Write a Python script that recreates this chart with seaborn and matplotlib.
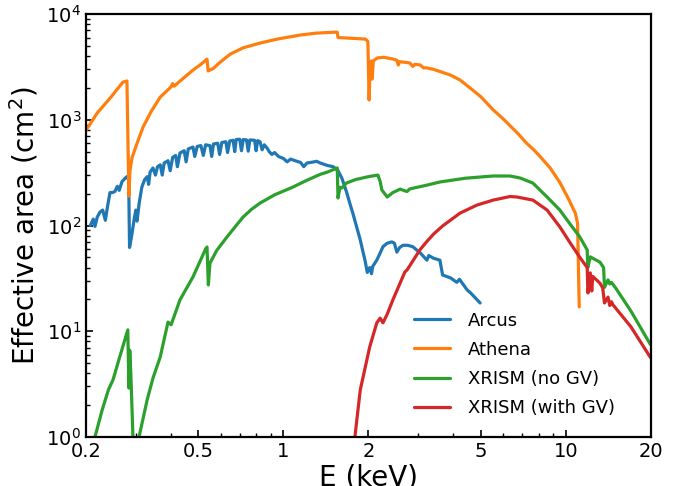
import numpy as np, pandas as pd
import matplotlib
matplotlib.use("Agg")  # headless
import matplotlib.pyplot as plt
import seaborn as sns
from matplotlib.ticker import FixedLocator, FixedFormatter, LogLocator, NullFormatter

# effective area curves (E in keV, area in cm^2)
arcus_e = [0.207, 0.212, 0.215, 0.219, 0.224, 0.229, 0.234, 0.238, 0.243, 0.248, 0.253, 0.258, 0.262,
           0.268, 0.275, 0.279, 0.283, 0.285, 0.290, 0.296, 0.300, 0.303, 0.308, 0.315, 0.322, 0.329,
           0.333, 0.337, 0.345, 0.352, 0.358, 0.366, 0.372, 0.378, 0.390, 0.397, 0.405, 0.415, 0.421,
           0.430, 0.445, 0.452, 0.460, 0.478, 0.485, 0.495, 0.510, 0.520, 0.530, 0.549, 0.557, 0.565,
           0.585, 0.594, 0.605, 0.625, 0.634, 0.645, 0.663, 0.672, 0.680, 0.700, 0.710, 0.720, 0.740,
           0.750, 0.760, 0.790, 0.800, 0.810, 0.826, 0.840, 0.855, 0.875, 0.890, 0.910, 0.930, 0.960,
           1.00, 1.03, 1.06, 1.10, 1.15, 1.18, 1.21, 1.27, 1.31, 1.35, 1.43, 1.50, 1.56, 1.61, 1.67,
           1.72, 1.76, 1.87, 1.95, 1.98, 2.02, 2.05, 2.07, 2.14, 2.20, 2.25, 2.33, 2.42, 2.47, 2.52,
           2.58, 2.65, 2.75, 2.87, 3.05, 3.22, 3.27, 3.40, 3.58, 3.66, 3.90, 4.11, 4.20, 4.47, 4.60, 4.97]
arcus_a = [100, 115, 98, 120, 134, 140, 112, 150, 205, 205, 210, 235, 215,
           260, 280, 290, 270, 62, 80, 115, 140, 110, 160, 230, 270, 290,
           245, 320, 350, 300, 360, 375, 300, 390, 410, 330, 440, 460, 360,
           485, 510, 400, 530, 552, 450, 560, 570, 460, 580, 570, 450, 590,
           600, 470, 610, 620, 490, 630, 640, 500, 650, 655, 510, 650, 645,
           505, 645, 640, 510, 635, 620, 520, 580, 540, 500, 470, 490, 450,
           430, 400, 425, 410, 395, 360, 390, 398, 405, 390, 370, 360, 330, 280, 210,
           160, 131, 73, 45, 36, 40, 35, 41, 47, 55, 63, 68, 70, 68, 56,
           62, 65, 65, 63, 55, 47, 52, 49, 47, 34, 32, 29, 31, 24.6, 23, 18.5]

athena_e = [0.200, 0.219, 0.243, 0.270, 0.279, 0.2835, 0.286, 0.291, 0.303, 0.318, 0.340, 0.366,
            0.400, 0.405, 0.410, 0.420, 0.448, 0.478, 0.510, 0.536, 0.541, 0.563, 0.600, 0.648,
            0.720, 0.826, 0.950, 1.144, 1.30, 1.55, 1.56, 1.75, 1.95, 1.99, 2.01, 2.03, 2.05,
            2.06, 2.08, 2.15, 2.27, 2.45, 2.52, 2.55, 2.58, 2.80, 2.87, 2.92, 3.05, 3.13, 3.21,
            3.40, 3.60, 3.90, 4.22, 4.58, 5.00, 5.53, 6.00, 6.34, 6.80, 7.26, 7.70, 8.10, 8.80,
            9.52, 10.2, 10.8, 11.0, 11.15]
athena_a = [800, 1160, 1600, 2270, 2330, 190, 330, 440, 600, 850, 1200, 1640,
            2050, 2200, 2080, 2200, 2550, 2950, 3350, 3750, 2900, 3050, 3550, 4180,
            4800, 5320, 5800, 6330, 6600, 6760, 6000, 5900, 5800, 5500, 1540, 3500, 3600,
            2430, 3600, 3850, 3900, 3750, 3650, 3300, 3550, 3450, 3200, 3350, 3300, 3100, 3100,
            3000, 2850, 2650, 2380, 2000, 1650, 1240, 1020, 880, 730, 600, 520, 450, 350,
            255, 180, 131, 105, 17]

xrism_e = [0.215, 0.228, 0.240, 0.249, 0.262, 0.281, 0.2835, 0.2855, 0.288, 0.293, 0.300, 0.305,
           0.308, 0.329, 0.345, 0.366, 0.390, 0.400, 0.430, 0.478, 0.530, 0.536, 0.542, 0.549,
           0.580, 0.631, 0.680, 0.719, 0.770, 0.826, 0.930, 1.08, 1.20, 1.35, 1.43, 1.55, 1.56,
           1.585, 1.61, 1.67, 1.80, 2.00, 2.16, 2.20, 2.23, 2.33, 2.44, 2.59, 2.70, 2.74, 2.80,
           3.20, 3.58, 4.40, 5.53, 6.34, 6.90, 7.64, 8.58, 9.52, 10.3, 11.2,
           11.9, 11.95, 12.2, 13.2, 13.6, 13.7, 14.1, 14.3, 14.5, 15.0, 17.0, 19.8, 20.0]
xrism_a = [1.0, 1.8, 2.8, 3.46, 5.5, 10.3, 2.9, 6.6, 4.0, 1.0, 0.4, 0.5,
           1.0, 2.24, 3.6, 5.7, 12.2, 11.5, 19.8, 32.6, 60, 62.6, 27.4, 44,
           58, 78, 100, 120, 142, 163, 195, 231, 265, 305, 320, 350, 182,
           230, 227, 252, 272, 290, 300, 260, 217, 186, 205, 221, 212, 210, 222,
           240, 258, 280, 294, 294, 281, 252, 186, 140, 105, 78,
           58.7, 40, 50.5, 45, 40, 26, 30.6, 28, 29, 25.7, 15.5, 7.7, 7.4]

xrism_gv_e = [1.79, 1.87, 2.02, 2.14, 2.20, 2.25, 2.33, 2.44, 2.69, 2.74, 3.04, 3.21, 3.40, 3.66, 4.22,
              4.84, 5.53, 6.34, 6.71, 7.64, 8.58, 9.52, 10.3, 11.2, 11.9, 11.97, 12.2, 12.35, 12.45,
              13.2, 13.5, 13.7, 14.1, 14.3, 14.5, 14.7, 17.0, 19.8, 20.0]
xrism_gv_a = [1.0, 2.78, 7.1, 12.0, 13.3, 12.0, 14.5, 19.8, 36.3, 38, 58.7, 70, 83, 99, 131,
              156, 174, 188, 186, 174, 140, 97, 70, 50, 40, 23, 35.6, 24, 33,
              28.5, 25.7, 18.5, 21, 17.5, 19, 17.7, 11, 5.8, 5.6]

labels = ["Arcus", "Athena", "XRISM (no GV)", "XRISM (with GV)"]
xticks = [0.2, 0.5, 1, 2, 5, 10, 20]
xtick_labels = ["0.2", "0.5", "1", "2", "5", "10", "20"]

frames = []
for lab, e, a in zip(labels, [arcus_e, athena_e, xrism_e, xrism_gv_e],
                     [arcus_a, athena_a, xrism_a, xrism_gv_a]):
    frames.append(pd.DataFrame({"E": e, "area": a, "inst": lab}))
df = pd.concat(frames, ignore_index=True)

sns.set_style("ticks")
plt.rcParams.update({
    "axes.linewidth": 1.6, "axes.edgecolor": "black",
    "text.color": "black", "axes.labelcolor": "black",
    "xtick.color": "black", "ytick.color": "black",
})
plt.rcParams["font.family"] = ["DejaVu Sans"]

fig = plt.figure(figsize=(6.78, 4.86), dpi=100)
ax = fig.add_axes([0.127, 0.101, 0.833, 0.870])
sns.lineplot(data=df, x="E", y="area", hue="inst", hue_order=labels,
             palette=sns.color_palette("tab10", 4), estimator=None, sort=False,
             linewidth=2.3, ax=ax)

ax.set_xscale("log")
ax.set_yscale("log")
ax.set_xlim(0.2, 20)
ax.set_ylim(1, 1e4)
ax.xaxis.set_major_locator(FixedLocator(xticks))
ax.xaxis.set_major_formatter(FixedFormatter(xtick_labels))
ax.xaxis.set_minor_locator(LogLocator(base=10, subs=np.arange(2, 10)))
ax.xaxis.set_minor_formatter(NullFormatter())
ax.yaxis.set_minor_locator(LogLocator(base=10, subs=np.arange(2, 10)))
ax.yaxis.set_minor_formatter(NullFormatter())
ax.tick_params(which="both", direction="in", left=True, bottom=True,
               top=False, right=False, color="black")
ax.tick_params(which="major", labelsize=14, width=1.2, length=5)
ax.tick_params(which="minor", width=1.0, length=3)
ax.set_xlabel("E (keV)", fontsize=20, labelpad=2)
ax.set_ylabel("Effective area (cm$^2$)", fontsize=20, labelpad=4)

ax.legend(frameon=False, fontsize=13, loc="upper left",
          bbox_to_anchor=(0.552, 0.335), handlelength=2.0, handletextpad=1.0,
          labelspacing=0.62)

fig.savefig("out.png", dpi=100)
